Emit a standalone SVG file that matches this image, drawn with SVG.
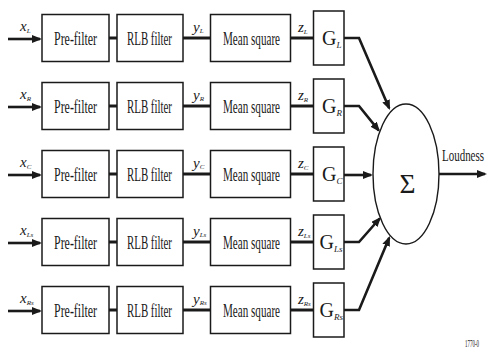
<svg xmlns="http://www.w3.org/2000/svg" width="489" height="352" viewBox="0 0 489 352">
<style>
.box{fill:#fff;stroke:#1a1a1a;stroke-width:1.5}
.ln{fill:none;stroke:#1a1a1a;stroke-width:3}
.ar{fill:none;stroke:#1a1a1a;stroke-width:2.6}
.t{font-family:"Liberation Serif","Times New Roman",serif;font-size:18px;fill:#1a1a1a}
.v{font-family:"Liberation Serif","Times New Roman",serif;font-style:italic;font-size:15px;fill:#1a1a1a}
.v tspan{font-size:7px}
.g{font-family:"Liberation Serif","Times New Roman",serif;font-size:20px;fill:#1a1a1a}
.g tspan{font-size:9px;font-style:italic}
</style>
<defs>
<marker id="ah" viewBox="0 0 10 8" refX="8" refY="4" markerWidth="10" markerHeight="8" markerUnits="userSpaceOnUse" orient="auto">
<path d="M0,0 L10,4 L0,8 z" fill="#1a1a1a"/>
</marker>
</defs>

<g id="connectors">
<line class="ar" x1="8" y1="39" x2="40" y2="39" marker-end="url(#ah)"/>
<line class="ar" x1="8" y1="107" x2="40" y2="107" marker-end="url(#ah)"/>
<line class="ar" x1="8" y1="175" x2="40" y2="175" marker-end="url(#ah)"/>
<line class="ar" x1="8" y1="243" x2="40" y2="243" marker-end="url(#ah)"/>
<line class="ar" x1="8" y1="311" x2="40" y2="311" marker-end="url(#ah)"/>

<line class="ln" x1="109" y1="38" x2="117" y2="38"/>
<line class="ln" x1="109" y1="106" x2="117" y2="106"/>
<line class="ln" x1="109" y1="174" x2="117" y2="174"/>
<line class="ln" x1="109" y1="242" x2="117" y2="242"/>
<line class="ln" x1="109" y1="310" x2="117" y2="310"/>

<line class="ln" x1="183" y1="38" x2="210" y2="38"/>
<line class="ln" x1="183" y1="106" x2="210" y2="106"/>
<line class="ln" x1="183" y1="174" x2="210" y2="174"/>
<line class="ln" x1="183" y1="242" x2="210" y2="242"/>
<line class="ln" x1="183" y1="310" x2="210" y2="310"/>

<line class="ln" x1="290" y1="38" x2="313" y2="38"/>
<line class="ln" x1="290" y1="106" x2="313" y2="106"/>
<line class="ln" x1="290" y1="174" x2="313" y2="174"/>
<line class="ln" x1="290" y1="242" x2="313" y2="242"/>
<line class="ln" x1="290" y1="310" x2="313" y2="310"/>

<polyline class="ar" points="344,38 359,38 389.2,108.2" marker-end="url(#ah)"/>
<polyline class="ar" points="344,106 359,106 378.7,130.4" marker-end="url(#ah)"/>
<line class="ar" x1="344" y1="175" x2="371" y2="175" marker-end="url(#ah)"/>
<polyline class="ar" points="344,242 359,242 379.7,218.5" marker-end="url(#ah)"/>
<polyline class="ar" points="344,310 359,310 389.2,237.8" marker-end="url(#ah)"/>
<line class="ar" x1="439" y1="174" x2="485" y2="174" marker-end="url(#ah)"/>
</g>

<g id="labels">
<text class="v" x="20" y="31">x<tspan dy="2">L</tspan></text>
<text class="v" x="20" y="99">x<tspan dy="2">R</tspan></text>
<text class="v" x="20" y="167">x<tspan dy="2">C</tspan></text>
<text class="v" x="20" y="235">x<tspan dy="2">Ls</tspan></text>
<text class="v" x="20" y="303">x<tspan dy="2">Rs</tspan></text>

<text class="v" x="193" y="32">y<tspan dy="1">L</tspan></text>
<text class="v" x="193" y="100">y<tspan dy="1">R</tspan></text>
<text class="v" x="193" y="168">y<tspan dy="1">C</tspan></text>
<text class="v" x="193" y="236">y<tspan dy="1">Ls</tspan></text>
<text class="v" x="193" y="304">y<tspan dy="1">Rs</tspan></text>

<text class="v" x="298" y="32">z<tspan dy="2">L</tspan></text>
<text class="v" x="298" y="100">z<tspan dy="2">R</tspan></text>
<text class="v" x="298" y="168">z<tspan dy="2">C</tspan></text>
<text class="v" x="298" y="236">z<tspan dy="2">Ls</tspan></text>
<text class="v" x="298" y="304">z<tspan dy="2">Rs</tspan></text>

<text class="t" x="484" y="161" style="font-size:16px" text-anchor="end" textLength="42" lengthAdjust="spacingAndGlyphs">Loudness</text>
<text class="t" x="479" y="347" style="font-size:10px" text-anchor="end" textLength="14" lengthAdjust="spacingAndGlyphs">1770-0</text>
</g>

<g id="prefilter-L"><rect class="box" x="42" y="14.5" width="67" height="47"/><text class="t" x="54" y="45" textLength="43" lengthAdjust="spacingAndGlyphs">Pre-filter</text></g>
<g id="prefilter-R"><rect class="box" x="42" y="82.5" width="67" height="47"/><text class="t" x="54" y="113" textLength="43" lengthAdjust="spacingAndGlyphs">Pre-filter</text></g>
<g id="prefilter-C"><rect class="box" x="42" y="150.5" width="67" height="47"/><text class="t" x="54" y="181" textLength="43" lengthAdjust="spacingAndGlyphs">Pre-filter</text></g>
<g id="prefilter-Ls"><rect class="box" x="42" y="218.5" width="67" height="47"/><text class="t" x="54" y="249" textLength="43" lengthAdjust="spacingAndGlyphs">Pre-filter</text></g>
<g id="prefilter-Rs"><rect class="box" x="42" y="286.5" width="67" height="47"/><text class="t" x="54" y="317" textLength="43" lengthAdjust="spacingAndGlyphs">Pre-filter</text></g>

<g id="rlb-L"><rect class="box" x="117" y="14.5" width="66" height="47"/><text class="t" x="127" y="45" textLength="45" lengthAdjust="spacingAndGlyphs">RLB filter</text></g>
<g id="rlb-R"><rect class="box" x="117" y="82.5" width="66" height="47"/><text class="t" x="127" y="113" textLength="45" lengthAdjust="spacingAndGlyphs">RLB filter</text></g>
<g id="rlb-C"><rect class="box" x="117" y="150.5" width="66" height="47"/><text class="t" x="127" y="181" textLength="45" lengthAdjust="spacingAndGlyphs">RLB filter</text></g>
<g id="rlb-Ls"><rect class="box" x="117" y="218.5" width="66" height="47"/><text class="t" x="127" y="249" textLength="45" lengthAdjust="spacingAndGlyphs">RLB filter</text></g>
<g id="rlb-Rs"><rect class="box" x="117" y="286.5" width="66" height="47"/><text class="t" x="127" y="317" textLength="45" lengthAdjust="spacingAndGlyphs">RLB filter</text></g>

<g id="ms-L"><rect class="box" x="210.5" y="14.5" width="80" height="47"/><text class="t" x="223" y="45" textLength="57" lengthAdjust="spacingAndGlyphs">Mean square</text></g>
<g id="ms-R"><rect class="box" x="210.5" y="82.5" width="80" height="47"/><text class="t" x="223" y="113" textLength="57" lengthAdjust="spacingAndGlyphs">Mean square</text></g>
<g id="ms-C"><rect class="box" x="210.5" y="150.5" width="80" height="47"/><text class="t" x="223" y="181" textLength="57" lengthAdjust="spacingAndGlyphs">Mean square</text></g>
<g id="ms-Ls"><rect class="box" x="210.5" y="218.5" width="80" height="47"/><text class="t" x="223" y="249" textLength="57" lengthAdjust="spacingAndGlyphs">Mean square</text></g>
<g id="ms-Rs"><rect class="box" x="210.5" y="286.5" width="80" height="47"/><text class="t" x="223" y="317" textLength="57" lengthAdjust="spacingAndGlyphs">Mean square</text></g>

<g id="G-L"><rect class="box" x="313.5" y="11" width="30.5" height="54"/><text class="g" x="322" y="45">G<tspan dy="3">L</tspan></text></g>
<g id="G-R"><rect class="box" x="313.5" y="79" width="30.5" height="54"/><text class="g" x="322" y="113">G<tspan dy="3">R</tspan></text></g>
<g id="G-C"><rect class="box" x="313.5" y="147" width="30.5" height="54"/><text class="g" x="322" y="181">G<tspan dy="3">C</tspan></text></g>
<g id="G-Ls"><rect class="box" x="313.5" y="215" width="30.5" height="54"/><text class="g" x="319.5" y="249">G<tspan dy="3">Ls</tspan></text></g>
<g id="G-Rs"><rect class="box" x="313.5" y="283" width="30.5" height="54"/><text class="g" x="319.5" y="317">G<tspan dy="3">Rs</tspan></text></g>

<g id="sum"><ellipse cx="406" cy="174" rx="33" ry="70" fill="#fff" stroke="#1a1a1a" stroke-width="1.4"/><text class="g" x="407.5" y="193" style="font-size:28px" text-anchor="middle" textLength="16" lengthAdjust="spacingAndGlyphs">Σ</text></g>
</svg>
